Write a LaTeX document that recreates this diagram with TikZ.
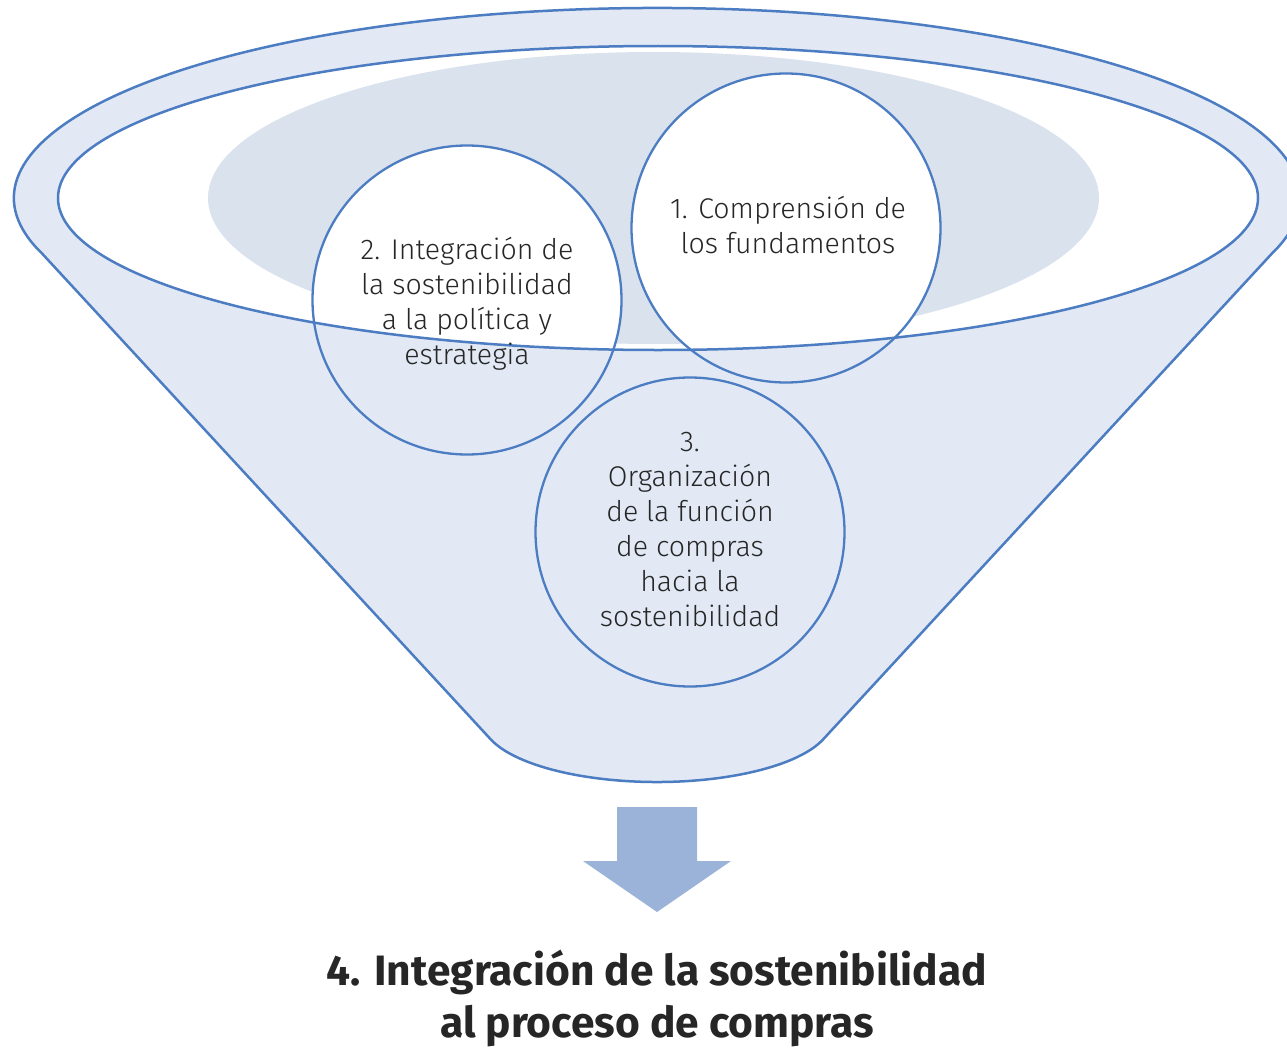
\documentclass[tikz,border=0pt]{standalone}
\usepackage{fontspec}
\setmainfont{Fira Sans}[UprightFont=* Light,BoldFont=* Bold]
\usetikzlibrary{calc}
\definecolor{edge}{HTML}{4C7CC2}
\definecolor{lightfill}{HTML}{E2E9F5}
\definecolor{grayfill}{HTML}{DAE2EE}
\definecolor{arrowc}{HTML}{9BB3D8}
\definecolor{txt}{HTML}{262626}
\begin{document}
\begin{tikzpicture}[x=1pt,y=1pt,
  rim/.style={draw=edge,line width=2.5pt,fill=lightfill,line join=round},
  ring/.style={draw=edge,line width=2.5pt},
  circ/.style={circle,draw=edge,line width=2.3pt,minimum size=309pt,inner sep=0pt},
  label/.style={align=center,text=txt,font=\fontsize{28.5}{35}\selectfont},
  title/.style={align=center,text=txt,font=\fontsize{42.5}{52}\selectfont\bfseries}]
\useasboundingbox (0,0) rectangle (1287,-1049);
% funnel body
\draw[rim] (657,-198) ++(197:643 and 190)
   arc[start angle=197,end angle=-17,x radius=643,y radius=190]
   -- (822,-740.6)
   arc[start angle=340.6,end angle=199.4,x radius=175,y radius=62]
   -- cycle;
% inner opening
\fill[white] (658,-198) ellipse[x radius=600,y radius=152];
\fill[grayfill] (653.5,-198) ellipse[x radius=445.5,y radius=146];
\begin{scope}
  \clip (658,-198) ellipse[x radius=600,y radius=152];
  \fill[white] (786,-228) circle[radius=154.5];
  \fill[white] (467,-300) circle[radius=154.5];
\end{scope}
\draw[ring] (658,-198) ellipse[x radius=600,y radius=152];
% circles
\node[circ] (c1) at (786,-228) {};
\node[circ] (c2) at (467,-300) {};
\node[circ] (c3) at (690,-532) {};
\node[label] (t1) at ([xshift=2pt,yshift=3pt]c1.center) {1. Comprensión de\\los fundamentos};
\node[label] (t2) at ([yshift=-4pt]c2.center) {2. Integración de\\la sostenibilidad\\a la política y\\estrategia};
\node[label] (t3) at ([yshift=2pt]c3.center) {3.\\Organización\\de la función\\de compras\\hacia la\\sostenibilidad};
% arrow
\fill[arrowc] (617,-807) -- (697,-807) -- (697,-861) -- (731,-861) -- (657,-912)
   -- (583,-861) -- (617,-861) -- cycle;
\coordinate (tip) at (657,-912);
\node[title,anchor=north] (res) at (657,-946) {4. Integración de la sostenibilidad\\al proceso de compras};
\end{tikzpicture}
\end{document}
